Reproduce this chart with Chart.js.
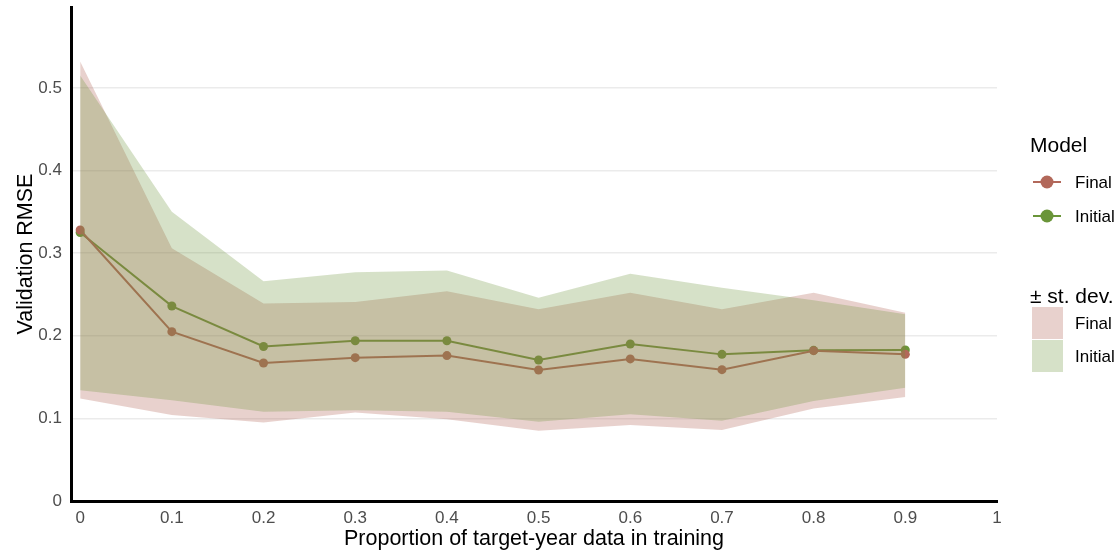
<!DOCTYPE html>
<html>
<head>
<meta charset="utf-8">
<script src="https://cdn.jsdelivr.net/npm/chart.js@4"></script>
<style>
  html, body { margin: 0; padding: 0; background: #ffffff; }
  #wrap { width: 1120px; height: 553px; position: relative; }
</style>
</head>
<body>
<div id="wrap"><canvas id="chart" width="1120" height="553"></canvas></div>
<script>
// Proportion of target-year data used in training
const proportions = [0, 0.1, 0.2, 0.3, 0.4, 0.5, 0.6, 0.7, 0.8, 0.9];

// Mean validation RMSE per model
const finalMean   = [0.328, 0.205, 0.167, 0.1735, 0.176, 0.1586, 0.172, 0.159, 0.182, 0.1775];
const initialMean = [0.325, 0.236, 0.187, 0.194, 0.194, 0.1707, 0.190, 0.1775, 0.1824, 0.1828];

// ± one standard deviation envelopes
const finalUpper   = [0.532, 0.306, 0.239, 0.241, 0.254, 0.232, 0.252, 0.232, 0.252, 0.228];
const finalLower   = [0.124, 0.104, 0.095, 0.107, 0.099, 0.085, 0.092, 0.086, 0.112, 0.126];
const initialUpper = [0.515, 0.350, 0.266, 0.277, 0.279, 0.246, 0.275, 0.258, 0.243, 0.226];
const initialLower = [0.134, 0.122, 0.108, 0.110, 0.108, 0.096, 0.105, 0.097, 0.121, 0.137];

// Axis ticks
const xTickValues = [0, 0.1, 0.2, 0.3, 0.4, 0.5, 0.6, 0.7, 0.8, 0.9, 1];
const yTickValues = [0, 0.1, 0.2, 0.3, 0.4, 0.5];

const modelNames = ['Final', 'Initial'];
const FINAL_COLOR = '#B2685A';
const INITIAL_COLOR = '#6A9539';
const FINAL_FILL = 'rgba(178, 104, 90, 0.30)';
const INITIAL_FILL = 'rgba(106, 149, 57, 0.28)';
const FONT = '"Liberation Sans", Arial, Helvetica, sans-serif';

const toPoints = (ys) => proportions.map((x, i) => ({ x: x, y: ys[i] }));
const fmt = (v) => String(Math.round(v * 10) / 10);

const bandLine = {
  borderColor: 'rgba(0,0,0,0)',
  borderWidth: 1,
  pointRadius: 0,
  tension: 0
};

// Side legend: one group for the lines, one for the ribbons
const sideLegend = {
  id: 'sideLegend',
  afterDraw(chart) {
    const ctx = chart.ctx;
    const x0 = chart.chartArea.right + 33;
    ctx.save();
    ctx.textAlign = 'left';
    ctx.textBaseline = 'alphabetic';
    ctx.fillStyle = '#000000';

    ctx.font = '21px ' + FONT;
    ctx.fillText('Model', x0, 152);

    const lineColors = [FINAL_COLOR, INITIAL_COLOR];
    const rows = [182, 216];
    ctx.font = '17px ' + FONT;
    rows.forEach((y, i) => {
      ctx.strokeStyle = lineColors[i];
      ctx.lineWidth = 2;
      ctx.beginPath();
      ctx.moveTo(x0 + 3, y);
      ctx.lineTo(x0 + 31, y);
      ctx.stroke();
      ctx.fillStyle = lineColors[i];
      ctx.beginPath();
      ctx.arc(x0 + 17, y, 6.5, 0, Math.PI * 2);
      ctx.fill();
      ctx.fillStyle = '#000000';
      ctx.fillText(modelNames[i], x0 + 45, y + 6);
    });

    ctx.font = '21px ' + FONT;
    ctx.fillText('\u00B1 st. dev.', x0, 303);

    const fills = [FINAL_FILL, INITIAL_FILL];
    const boxes = [307, 340];
    ctx.font = '17px ' + FONT;
    boxes.forEach((y, i) => {
      ctx.fillStyle = fills[i];
      ctx.fillRect(x0 + 2, y, 31, 32);
      ctx.fillStyle = '#000000';
      ctx.fillText(modelNames[i], x0 + 45, y + 22);
    });
    ctx.restore();
  }
};

Chart.defaults.font.family = FONT;

new Chart(document.getElementById('chart'), {
  type: 'line',
  data: {
    datasets: [
      // Initial ribbon (drawn last, on top)
      Object.assign({ label: 'Initial lower', data: toPoints(initialLower), fill: false }, bandLine),
      Object.assign({ label: 'Initial upper', data: toPoints(initialUpper), fill: '-1', backgroundColor: INITIAL_FILL }, bandLine),
      // Final ribbon
      Object.assign({ label: 'Final lower', data: toPoints(finalLower), fill: false }, bandLine),
      Object.assign({ label: 'Final upper', data: toPoints(finalUpper), fill: '-1', backgroundColor: FINAL_FILL }, bandLine),
      // Mean lines (drawn first, beneath the ribbons)
      {
        label: 'Final', data: toPoints(finalMean), fill: false,
        borderColor: FINAL_COLOR, backgroundColor: FINAL_COLOR,
        borderWidth: 2, pointRadius: 4.5, pointBorderWidth: 0, tension: 0
      },
      {
        label: 'Initial', data: toPoints(initialMean), fill: false,
        borderColor: INITIAL_COLOR, backgroundColor: INITIAL_COLOR,
        borderWidth: 2, pointRadius: 4.5, pointBorderWidth: 0, tension: 0
      }
    ]
  },
  options: {
    responsive: false,
    animation: false,
    events: [],
    layout: { padding: { left: 0, right: 123, top: 7, bottom: 0 } },
    plugins: {
      legend: { display: false },
      tooltip: { enabled: false },
      filler: { drawTime: 'beforeDatasetDraw' }
    },
    scales: {
      x: {
        type: 'linear',
        min: -0.01,
        max: 1,
        afterBuildTicks: (scale) => { scale.ticks = xTickValues.map(v => ({ value: v })); },
        afterFit: (scale) => {
          scale.height = 52;
          scale.paddingLeft = 0;
          scale.paddingRight = 0;
        },
        ticks: {
          callback: (v) => fmt(v),
          color: '#4D4D4D',
          font: { size: 17 },
          padding: 7,
          maxRotation: 0,
          autoSkip: false
        },
        grid: { color: 'rgba(0,0,0,0)', drawTicks: false, tickLength: 0 },
        border: { display: true, color: '#000000', width: 3 },
        title: {
          display: true,
          text: 'Proportion of target-year data in training',
          color: '#000000',
          font: { size: 21.5 },
          padding: { top: 0, bottom: 1 }
        }
      },
      y: {
        type: 'linear',
        min: 0,
        max: 0.598,
        afterBuildTicks: (scale) => { scale.ticks = yTickValues.map(v => ({ value: v })); },
        afterFit: (scale) => {
          scale.width = 71;
          scale.paddingTop = 0;
          scale.paddingBottom = 0;
        },
        ticks: {
          callback: (v) => fmt(v),
          color: '#4D4D4D',
          font: { size: 17 },
          padding: 9
        },
        grid: { color: '#EBEBEB', lineWidth: 1.6, drawTicks: false, tickLength: 0 },
        border: { display: true, color: '#000000', width: 3 },
        title: {
          display: true,
          text: 'Validation RMSE',
          color: '#000000',
          font: { size: 21.5 },
          padding: { top: 13, bottom: 0 }
        }
      }
    }
  },
  plugins: [sideLegend]
});
</script>
</body>
</html>
